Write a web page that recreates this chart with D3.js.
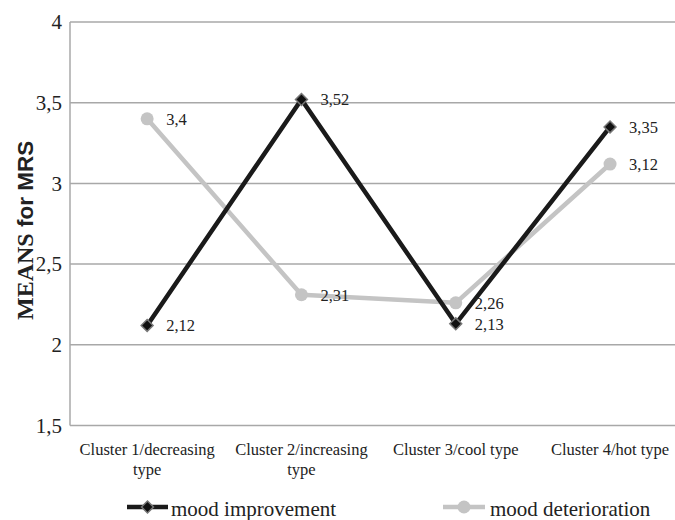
<!DOCTYPE html>
<html>
<head>
<meta charset="utf-8">
<script src="https://cdn.jsdelivr.net/npm/d3@7/dist/d3.min.js"></script>
<style>
  html, body { margin: 0; padding: 0; background: #fff; }
  svg { display: block; }
</style>
</head>
<body>
<svg id="chart" width="675" height="520"></svg>
<script>
// Cluster categories, each label split into display lines
const categories = ["Cluster 1/decreasing type", "Cluster 2/increasing type", "Cluster 3/cool type", "Cluster 4/hot type"];
const categoryLines = [["Cluster 1/decreasing", "type"], ["Cluster 2/increasing", "type"], ["Cluster 3/cool type"], ["Cluster 4/hot type"]];

// Mean MRS values per cluster
const moodImprovement = [2.12, 3.52, 2.13, 3.35];
const moodDeterioration = [3.4, 2.31, 2.26, 3.12];

const seriesNames = ["mood improvement", "mood deterioration"];
const yTicks = [1.5, 2, 2.5, 3, 3.5, 4];

const SERIF = '"Liberation Serif"';
const SANS = '"Liberation Sans"';
const INK = "#222";

const svg = d3.select("#chart");

const plotLeft = 70, plotTop = 22, plotBottom = 425.5;
const band = 154.3;

const x = d3.scaleBand().domain(categories).range([plotLeft, plotLeft + band * categories.length]).padding(0);
const y = d3.scaleLinear().domain([1.5, 4]).range([plotBottom, plotTop]);
const fmt = v => String(v).replace(".", ",");

// horizontal gridlines
svg.append("g").selectAll("line").data(yTicks).join("line")
  .attr("x1", plotLeft).attr("x2", 700)
  .attr("y1", d => y(d)).attr("y2", d => y(d))
  .attr("stroke", "#a8a8a8").attr("stroke-width", 1.5);

// left axis line
svg.append("line").attr("x1", plotLeft).attr("x2", plotLeft).attr("y1", plotTop).attr("y2", plotBottom)
  .attr("stroke", "#a8a8a8").attr("stroke-width", 1.5);

// y tick labels
const yAxis = d3.axisLeft(y).tickValues(yTicks).tickFormat(fmt).tickSize(0).tickPadding(8);
const ya = svg.append("g").attr("transform", `translate(${plotLeft},0)`).call(yAxis);
ya.select(".domain").remove();
ya.selectAll("text")
  .style("font-family", SERIF).style("font-size", "21px").style("fill", INK);

// y axis title: serif "MEANS", sans "for MRS"
const title = svg.append("text")
  .attr("transform", "translate(33,320) rotate(-90)")
  .attr("text-anchor", "start")
  .style("font-size", "24px").style("font-weight", "bold").style("fill", INK);
title.append("tspan").style("font-family", SERIF).text("MEANS");
title.append("tspan").style("font-family", SANS).style("font-size", "22.5px").text(" for MRS");

// category labels
const cx = c => x(c) + x.bandwidth() / 2;
const catG = svg.append("g");
categories.forEach((c, i) => {
  const t = catG.append("text").attr("text-anchor", "middle")
    .style("font-family", SERIF).style("font-size", "16.5px").style("fill", INK);
  categoryLines[i].forEach((ln, j) => {
    t.append("tspan").attr("x", cx(c)).attr("y", 455 + j * 20).text(ln);
  });
});

const line = d3.line().x((d, i) => cx(categories[i])).y(d => y(d));

const diamond = d3.symbol().type(d3.symbolDiamond2).size(90);

// mood deterioration series
svg.append("path").datum(moodDeterioration).attr("d", line)
  .attr("fill", "none").attr("stroke", "#c4c4c4").attr("stroke-width", 4.5).attr("stroke-linejoin", "round");
svg.append("g").selectAll("circle").data(moodDeterioration).join("circle")
  .attr("cx", (d, i) => cx(categories[i])).attr("cy", d => y(d)).attr("r", 6.5)
  .attr("fill", "#c4c4c4");

// mood improvement series
svg.append("path").datum(moodImprovement).attr("d", line)
  .attr("fill", "none").attr("stroke", "#1a1a1a").attr("stroke-width", 4.5).attr("stroke-linejoin", "miter");
svg.append("g").selectAll("path").data(moodImprovement).join("path")
  .attr("d", diamond)
  .attr("transform", (d, i) => `translate(${cx(categories[i])},${y(d)})`)
  .attr("fill", "#111").attr("stroke", "#777").attr("stroke-width", 1.5);

// value labels
const labelG = svg.append("g");
[moodImprovement, moodDeterioration].forEach(series => {
  labelG.selectAll(null).data(series).join("text")
    .attr("x", (d, i) => cx(categories[i]) + 19)
    .attr("y", d => y(d))
    .attr("dy", "0.35em")
    .style("font-family", SERIF).style("font-size", "16.5px").style("fill", INK)
    .text(fmt);
});

// legend
const lg = svg.append("g");
lg.append("line").attr("x1", 127).attr("x2", 168).attr("y1", 507).attr("y2", 507)
  .attr("stroke", "#1a1a1a").attr("stroke-width", 4.5);
lg.append("path").attr("d", diamond).attr("transform", "translate(147.5,507)")
  .attr("fill", "#111").attr("stroke", "#777").attr("stroke-width", 1.5);
lg.append("text").attr("x", 171).attr("y", 509).attr("dy", "0.35em")
  .style("font-family", SERIF).style("font-size", "21px").style("fill", INK).text(seriesNames[0]);

lg.append("line").attr("x1", 443).attr("x2", 485).attr("y1", 507).attr("y2", 507)
  .attr("stroke", "#c4c4c4").attr("stroke-width", 4.5);
lg.append("circle").attr("cx", 464).attr("cy", 507).attr("r", 6.5).attr("fill", "#c4c4c4");
lg.append("text").attr("x", 490).attr("y", 509).attr("dy", "0.35em")
  .style("font-family", SERIF).style("font-size", "21px").style("fill", INK).text(seriesNames[1]);
</script>
</body>
</html>
